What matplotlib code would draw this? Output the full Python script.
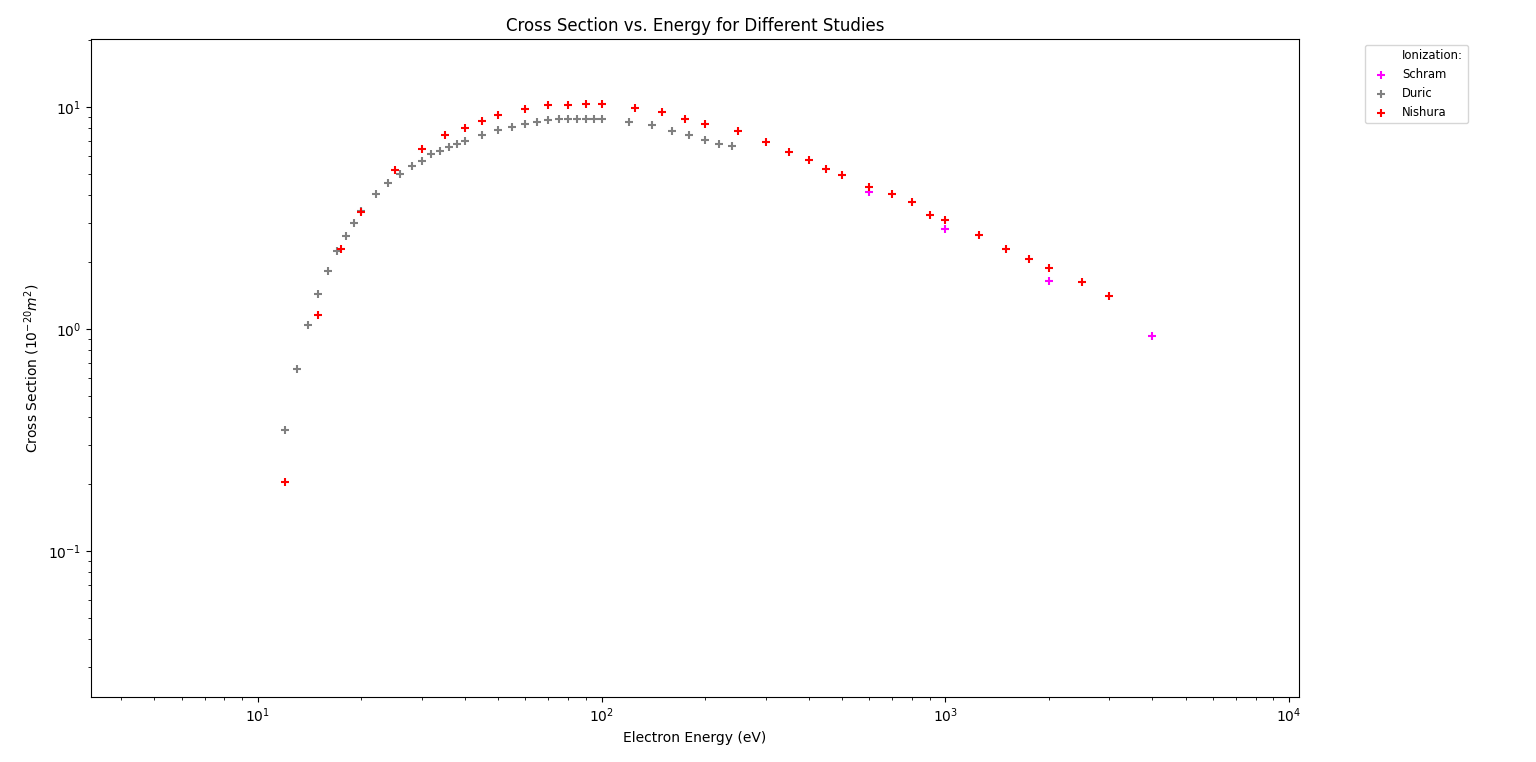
import matplotlib
matplotlib.use("Agg")
import matplotlib.pyplot as plt

schram_energy = [600, 1000, 2000, 4000]
schram_cs = [4.14, 2.82, 1.65, 0.933]

duric_energy = [12, 13, 14, 15, 16, 17, 18, 19, 20, 22, 24, 26, 28, 30, 32, 34, 36, 38, 40,
                45, 50, 55, 60, 65, 70, 75, 80, 85, 90, 95, 100, 120, 140, 160, 180, 200, 220, 240]
duric_cs = [0.351, 0.662, 1.04, 1.43, 1.83, 2.25, 2.63, 3.00, 3.38, 4.07, 4.56, 4.99, 5.44, 5.73,
            6.10, 6.35, 6.56, 6.81, 7.05, 7.50, 7.90, 8.15, 8.36, 8.53, 8.68, 8.77, 8.77, 8.77,
            8.77, 8.77, 8.77, 8.50, 8.24, 7.82, 7.50, 7.12, 6.83, 6.63]

nishura_energy = [12, 15, 17.5, 20, 25, 30, 35, 40, 45, 50, 60, 70, 80, 90, 100, 125, 150, 175,
                  200, 250, 300, 350, 400, 450, 500, 600, 700, 800, 900, 1000, 1250, 1500, 1750,
                  2000, 2500, 3000]
nishura_cs = [0.205, 1.15, 2.30, 3.36, 5.22, 6.49, 7.43, 8.07, 8.59, 9.23, 9.82, 10.14, 10.24,
              10.35, 10.35, 9.93, 9.43, 8.85, 8.41, 7.82, 6.91, 6.29, 5.79, 5.27, 4.95, 4.36,
              4.03, 3.71, 3.27, 3.09, 2.66, 2.28, 2.07, 1.89, 1.63, 1.40]

fig = plt.figure(figsize=(15.36, 7.62), dpi=100)
ax = fig.add_axes([0.0592, 0.0853, 0.7865, 0.8635])

ax.plot([], [], ' ', label='Ionization:')
ax.scatter(schram_energy, schram_cs, marker='+', color='magenta', label='Schram')
ax.scatter(duric_energy, duric_cs, marker='+', color='gray', label='Duric')
ax.scatter(nishura_energy, nishura_cs, marker='+', color='red', label='Nishura')

ax.set_xscale('log')
ax.set_yscale('log')
ax.set_xlim(3.27, 10690)
ax.set_ylim(0.022, 20.2)

ax.set_title('Cross Section vs. Energy for Different Studies')
ax.set_xlabel('Electron Energy (eV)')
ax.set_ylabel('Cross Section ($10^{-20} m^2$)')

ax.legend(loc='upper left', bbox_to_anchor=(1.05, 1), fontsize='small')

fig.savefig('out.png', dpi=100)
